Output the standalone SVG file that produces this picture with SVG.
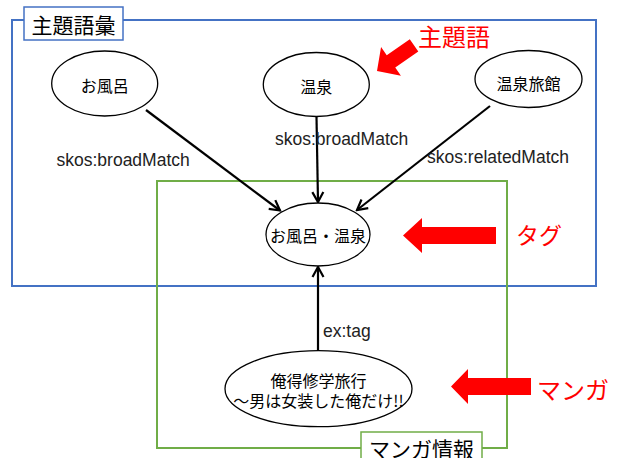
<svg xmlns="http://www.w3.org/2000/svg" width="618" height="458" viewBox="0 0 618 458">
<style>
.node ellipse{fill:#fff;stroke:#000;stroke-width:1.3}
.nt{font-family:"Noto Sans CJK JP","Noto Sans",sans-serif;font-size:16px;fill:#000;text-anchor:middle;dominant-baseline:central}
.lbl{font-family:"Liberation Sans",Arial,sans-serif;font-size:17.5px;fill:#222}
.edge{stroke:#000;stroke-width:2.2;fill:none;marker-end:url(#arr)}
.red{fill:#FF0000}
.rt{font-family:"Noto Sans CJK JP",sans-serif;fill:#FF0000;dominant-baseline:central}
.gt{font-family:"Noto Sans CJK JP",sans-serif;font-size:21px;fill:#000;text-anchor:middle;dominant-baseline:central}
</style>
<defs>
<marker id="arr" viewBox="0 0 14 14" refX="12" refY="7" markerWidth="14" markerHeight="14" markerUnits="userSpaceOnUse" orient="auto">
<path d="M2,1.5 L12,7 L2,12.5" fill="none" stroke="#000" stroke-width="2.2"/>
</marker>
</defs>
<rect width="618" height="458" fill="#fff"/>
<g id="group-thesaurus">
<rect x="12" y="20" width="584" height="266" fill="none" stroke="#4472C4" stroke-width="2"/>
</g>
<g id="group-manga">
<rect x="157" y="181" width="350" height="267" fill="none" stroke="#70AD47" stroke-width="2"/>
</g>
<g id="connectors">
<line class="edge" x1="146" y1="110" x2="280" y2="210.5"/>
<line class="edge" x1="316.5" y1="117" x2="318" y2="202"/>
<line class="edge" x1="490" y1="106" x2="357" y2="210"/>
<line class="edge" x1="318" y1="351" x2="318" y2="267"/>
<text class="lbl" x="56.5" y="166">skos:broadMatch</text>
<text class="lbl" x="275" y="145">skos:broadMatch</text>
<text class="lbl" x="427" y="162.5">skos:relatedMatch</text>
<text class="lbl" x="323" y="337">ex:tag</text>
</g>
<g id="node-ofuro" class="node">
<ellipse cx="104.7" cy="83.5" rx="53" ry="32.5"/>
<text class="nt" x="104.7" y="85">お風呂</text>
</g>
<g id="node-onsen" class="node">
<ellipse cx="316.3" cy="84.5" rx="53" ry="32"/>
<text class="nt" x="316.3" y="86">温泉</text>
</g>
<g id="node-ryokan" class="node">
<ellipse cx="528.5" cy="79" rx="53.5" ry="28.5"/>
<text class="nt" x="528.5" y="83">温泉旅館</text>
</g>
<g id="node-tag" class="node">
<ellipse cx="318" cy="234.5" rx="52" ry="31.5"/>
<text class="nt" x="318" y="235">お風呂・温泉</text>
</g>
<g id="node-manga" class="node">
<ellipse cx="318.5" cy="388.7" rx="93.5" ry="38"/>
<text class="nt" x="318.5" y="379.5" font-size="15.5">俺得修学旅行</text>
<text class="nt" x="318.5" y="400" font-size="15.5">～男は女装した俺だけ!!</text>
</g>
<g id="label-thesaurus">
<rect x="24" y="7" width="99" height="33" fill="#fff" stroke="#4472C4" stroke-width="1.5"/>
<text class="gt" x="73.5" y="24">主題語彙</text>
</g>
<g id="label-manga">
<rect x="361" y="432" width="121" height="34" fill="#fff" stroke="#70AD47" stroke-width="1.5"/>
<text class="gt" x="421.5" y="447.5">マンガ情報</text>
</g>
<g id="callout-subject">
<polygon class="red" transform="translate(377,71) rotate(-34.6)" points="0,0 17,-17.5 17,-7.5 45,-7.5 45,7.5 17,7.5 17,17.5"/>
<text class="rt" x="418" y="35" font-size="24">主題語</text>
</g>
<g id="callout-tag">
<polygon class="red" points="403,235.5 422,218 422,227 496,227 496,244 422,244 422,253"/>
<text class="rt" x="516" y="234" font-size="23">タグ</text>
</g>
<g id="callout-manga">
<polygon class="red" points="451,386.5 468,369 468,378 531,378 531,395 468,395 468,404"/>
<text class="rt" x="537" y="388" font-size="24">マンガ</text>
</g>
</svg>
